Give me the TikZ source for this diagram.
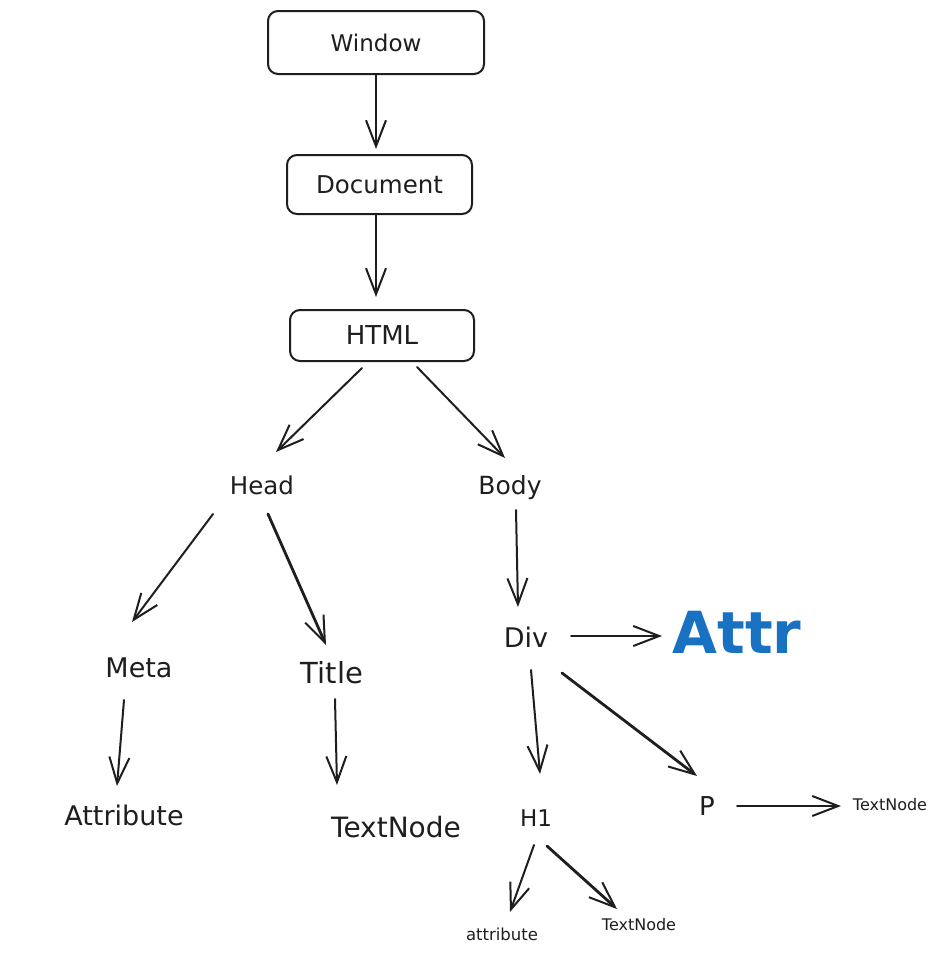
\documentclass[tikz,border=0pt]{standalone}
\usepackage{fontspec}
\setmainfont{DejaVu Sans}
\usetikzlibrary{arrows.meta,calc}
\definecolor{ink}{HTML}{1E1E1E}
\definecolor{attrblue}{HTML}{1971C2}
\tikzset{
  box/.style={draw=ink, line width=2pt, rounded corners=10pt, inner sep=0pt},
  lbl/.style={inner sep=0pt, text=ink},
  link/.style={draw=ink, line width=2pt, line cap=round,
    -{Straight Barb[length=26pt,width=20pt,line width=2pt]}},
  heavy/.style={link, line width=2.8pt},
}
\newcommand{\fs}[1]{\fontsize{#1}{#1}\selectfont}
\begin{document}
\begin{tikzpicture}[x=1pt,y=-1pt]
  \useasboundingbox (0,0) rectangle (938,953);
  \fill[white] (0,0) rectangle (938,953);

  % boxed top levels
  \node[box, minimum width=216pt, minimum height=63pt] (window) at (376,42.5) {};
  \node[lbl] at (window) {\fs{23}Window};
  \node[box, minimum width=185pt, minimum height=59pt] (document) at (379.5,184.5) {};
  \node[lbl] at (document) {\fs{24.5}Document};
  \node[box, minimum width=184pt, minimum height=51pt] (html) at (382,335.5) {};
  \node[lbl] at (html) {\fs{26}HTML};

  % tree labels
  \node[lbl] (head) at (262,485) {\fs{24.5}Head};
  \node[lbl] (body) at (510,488) {\fs{25}Body};
  \node[lbl] (meta) at (139,668) {\fs{27}Meta};
  \node[lbl] (title) at (332,673) {\fs{29}Title};
  \node[lbl] (div) at (526,637) {\fs{27}Div};
  \node[inner sep=0pt, text=attrblue] (attr) at (737,632) {\fs{58}\bfseries Attr};
  \node[lbl] (attribute) at (124,815) {\fs{27}Attribute};
  \node[lbl] (titletext) at (396,827) {\fs{28}TextNode};
  \node[lbl] (h1) at (536,818) {\fs{23}H1};
  \node[lbl] (p) at (707,806) {\fs{26}P};
  \node[lbl] (ptext) at (890,805) {\fs{16}TextNode};
  \node[lbl] (h1attr) at (502,934) {\fs{16.5}attribute};
  \node[lbl] (h1text) at (639,925) {\fs{16}TextNode};

  % connectors
  \draw[link] (window.south) -- ($(document.north)+(-3.5,-5)$);
  \draw[link] ($(document.south)+(-3.5,0)$) -- ($(html.north)+(-6,-12)$);
  \draw[link] ($(html.south)+(-20,6)$) -- ($(head)+(14,-33)$);
  \draw[link] ($(html.south)+(35,5)$) -- ($(body)+(-5,-30)$);
  \draw[link] ($(head)+(-49,29)$) -- ($(meta)+(-7,-46)$);
  \draw[heavy] ($(head)+(6,29)$) -- ($(title)+(-6,-28)$);
  \draw[link] ($(body)+(6,22)$) -- ($(div)+(-8,-30)$);
  \draw[link] ($(div)+(45,-1)$) -- ($(attr)+(-75,4)$);
  \draw[link] ($(div)+(5,33)$) -- ($(h1)+(4,-44)$);
  \draw[heavy] ($(div)+(36,36)$) -- ($(p)+(-10,-30)$);
  \draw[link] ($(meta)+(-15,32)$) -- ($(attribute)+(-7,-29)$);
  \draw[link] ($(title)+(3,26)$) -- ($(titletext)+(-59,-42)$);
  \draw[link] ($(p)+(30,0)$) -- ($(ptext)+(-49,1)$);
  \draw[link] ($(h1)+(-2,27)$) -- ($(h1attr)+(8,-22)$);
  \draw[heavy] ($(h1)+(11,28)$) -- ($(h1text)+(-22,-16)$);
\end{tikzpicture}
\end{document}
